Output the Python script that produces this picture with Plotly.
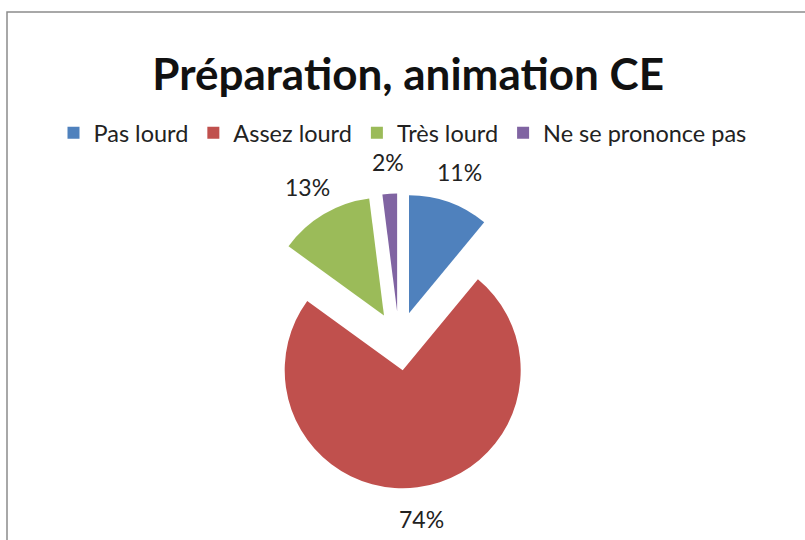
import math
import plotly.graph_objects as go

labels = ['Pas lourd', 'Assez lourd', 'Très lourd', 'Ne se prononce pas']
values = [11, 74, 13, 2]
colors = ['#4F81BD', '#C0504D', '#9BBB59', '#8064A2']

W, H = 805, 540
CX, CY = 399, 341      # centre of the pie in pixels
R = 118                # pie radius in pixels
PULL = 0.25
LABEL_DIST = 1.52      # label distance, in radii

half = R * (1 + PULL)

fig = go.Figure(go.Pie(
    labels=labels,
    values=values,
    sort=False,
    direction='clockwise',
    rotation=0,
    pull=[PULL] * len(values),
    marker=dict(colors=colors, line=dict(width=0)),
    textinfo='none',
    domain=dict(x=[(CX - half) / W, (CX + half) / W],
                y=[1 - (CY + half) / H, 1 - (CY - half) / H]),
    automargin=False,
    hoverinfo='label+percent',
))

# percentage labels, placed outside each slice like Excel does
total = sum(values)
cum = 0
annotations = []
for v in values:
    mid = (cum + v / 2) / total * 2 * math.pi
    cum += v
    px = CX + LABEL_DIST * R * math.sin(mid)
    py = CY - LABEL_DIST * R * math.cos(mid)
    annotations.append(dict(
        text=f'{round(v / total * 100)}%', x=px / W, y=1 - py / H,
        xref='paper', yref='paper', showarrow=False,
        xanchor='center', yanchor='middle',
        font=dict(family='Lato', size=23, color='#222222'),
    ))

fig.update_layout(
    width=W, height=H,
    margin=dict(l=0, r=0, t=0, b=0, autoexpand=False),
    paper_bgcolor='white',
    font=dict(family='Lato', color='#222222'),
    title=dict(text='<b>Préparation, animation CE</b>', x=0.507, xanchor='center',
               y=1 - 75 / H, yanchor='middle',
               font=dict(family='Lato', size=44, color='#111111')),
    legend=dict(orientation='h', x=0.5, xanchor='center', y=1 - 133 / H, yanchor='middle',
                font=dict(family='Lato', size=23.5, color='#222222'),
                itemwidth=30, traceorder='normal'),
    annotations=annotations,
    shapes=[dict(type='rect', xref='paper', yref='paper',
                 x0=7 / W, x1=1.2, y0=-0.2, y1=1 - 12 / H,
                 line=dict(color='#8C8C8C', width=1.5))],
)

fig.write_html('out.html', config={'displayModeBar': False},
               post_script="document.body.style.margin='0';")
